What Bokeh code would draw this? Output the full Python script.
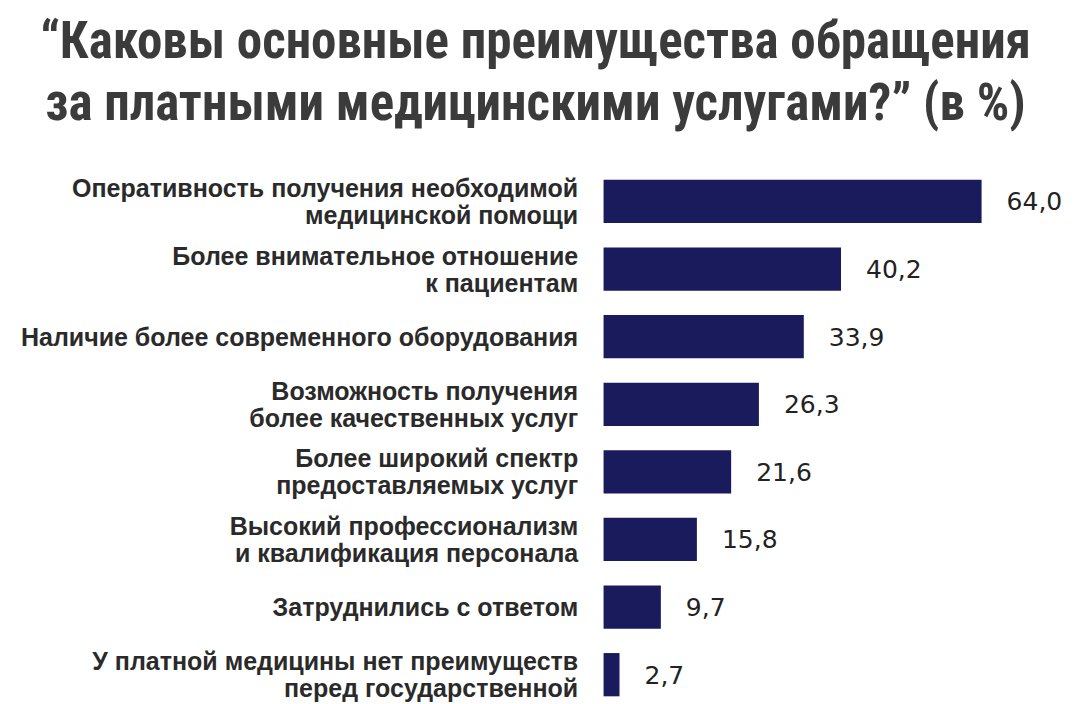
from bokeh.plotting import figure
from bokeh.models import Range1d, ColumnDataSource, Label
from bokeh.core.properties import value
from bokeh.embed import file_html
from bokeh.resources import INLINE

title_lines = ["“Каковы основные преимущества обращения",
               "за платными медицинскими услугами?” (в %)"]
categories = [
    "Оперативность получения необходимой\nмедицинской помощи",
    "Более внимательное отношение\nк пациентам",
    "Наличие более современного оборудования",
    "Возможность получения\nболее качественных услуг",
    "Более широкий спектр\nпредоставляемых услуг",
    "Высокий профессионализм\nи квалификация персонала",
    "Затруднились с ответом",
    "У платной медицины нет преимуществ\nперед государственной",
]
values = [64.0, 40.2, 33.9, 26.3, 21.6, 15.8, 9.7, 2.7]
value_labels = ["64,0", "40,2", "33,9", "26,3", "21,6", "15,8", "9,7", "2,7"]

idx = list(range(len(categories)))
src = ColumnDataSource(dict(y=idx, v=values, cat=categories, vl=value_labels,
                            lx=[-4.3] * len(idx)))

p = figure(width=1075, height=704, output_backend="svg", toolbar_location=None,
           x_range=Range1d(-102.1, 79.9), y_range=Range1d(7.441, -2.973),
           min_border=0, outline_line_color=None)
p.axis.visible = False
p.grid.visible = False
p.background_fill_color = "white"
p.border_fill_color = "white"

p.hbar(y="y", right="v", left=0, height=0.64, source=src,
       fill_color="#191b5c", line_color=None)

p.text(x="v", y="y", text="vl", source=src, x_offset=25,
       text_font=value("DejaVu Sans"), text_font_size="25px",
       text_color="#222222", text_align="left", text_baseline="middle")

p.text(x="lx", y="y", text="cat", source=src,
       text_font=value("Liberation Sans"), text_font_size="25px",
       text_font_style="bold", text_color="#2a2a2a",
       text_align="right", text_baseline="middle", text_line_height=0.96)

for t, yy in zip(title_lines, [664, 602]):
    p.add_layout(Label(x=535, y=yy, x_units="screen", y_units="screen",
                       text=t, text_align="center", text_baseline="alphabetic",
                       text_font="Roboto Condensed", text_font_style="bold",
                       text_font_size="51px", text_color="#3b3b3b"))

open("out.html", "w").write(file_html(p, INLINE))
